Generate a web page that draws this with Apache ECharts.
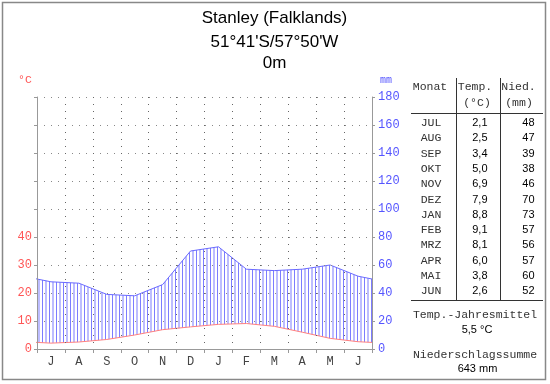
<!DOCTYPE html>
<html><head><meta charset="utf-8">
<script src="https://cdn.jsdelivr.net/npm/echarts@6/dist/echarts.min.js"></script>
<style>html,body{margin:0;padding:0;background:#fff}#c{width:550px;height:384px}</style>
</head><body><div id="c"></div>
<script>
// ---- data ----
const monthLabels = ['J','A','S','O','N','D','J','F','M','A','M','J'];
const monthNames = ['JUL','AUG','SEP','OKT','NOV','DEZ','JAN','FEB','MRZ','APR','MAI','JUN'];
const temperature = [2.1,2.5,3.4,5.0,6.9,7.9,8.8,9.1,8.1,6.0,3.8,2.6];
const precipitation = [48,47,39,38,46,70,73,57,56,57,60,52];
const titleLines = ['Stanley (Falklands)', "51°41'S/57°50'W", '0m'];
const meanTempLabel = '5,5 °C';
const totalPrecipLabel = '643 mm';

// cyclic series: previous month before the first, next after the last (clipped by grid)
function cyc(arr){
  const d = [[-0.5, arr[arr.length-1]]];
  arr.forEach((v,i)=>d.push([i+0.5, v]));
  d.push([arr.length+0.5, arr[0]]);
  return d;
}

// hatch pattern
const pc = document.createElement('canvas');
pc.width = 7; pc.height = 4;
const pctx = pc.getContext('2d');
pctx.fillStyle = '#7c7cff';
pctx.fillRect(0,0,1,4);
pctx.fillRect(3.5,0,1,4);

const MONO = '"Liberation Mono", "DejaVu Sans Mono", monospace';
const SANS = '"Liberation Sans", Arial, sans-serif';

const g = [];
// border
g.push({type:'rect', silent:true, shape:{x:2.5,y:2.5,width:543,height:377}, style:{fill:null, stroke:'#888', lineWidth:1.5}, z:100});
// title
[18,42,63].forEach((y,i)=>g.push({type:'text', silent:true, x:274.5, y:y, style:{text:titleLines[i], font:'17px '+SANS, fill:'#000', align:'center', verticalAlign:'middle'}}));
// axis units
g.push({type:'text', silent:true, x:25, y:80, style:{text:'°C', font:'11.5px '+MONO, fill:'#ff5555', align:'center', verticalAlign:'middle'}});
g.push({type:'text', silent:true, x:386, y:80, style:{text:'mm', font:'10px '+MONO, fill:'#5555ff', align:'center', verticalAlign:'middle'}});
// table
const tFont = '11.5px '+MONO, vFont = '11px '+SANS;
g.push({type:'text', silent:true, x:430, y:87, style:{text:'Monat', font:tFont, fill:'#333', align:'center', verticalAlign:'middle'}});
g.push({type:'text', silent:true, x:475, y:87, style:{text:'Temp.', font:tFont, fill:'#333', align:'center', verticalAlign:'middle'}});
g.push({type:'text', silent:true, x:477, y:103, style:{text:'(°C)', font:tFont, fill:'#333', align:'center', verticalAlign:'middle'}});
g.push({type:'text', silent:true, x:518.5, y:87, style:{text:'Nied.', font:tFont, fill:'#333', align:'center', verticalAlign:'middle'}});
g.push({type:'text', silent:true, x:519, y:103, style:{text:'(mm)', font:tFont, fill:'#333', align:'center', verticalAlign:'middle'}});
g.push({type:'line', silent:true, shape:{x1:411,y1:113.5,x2:543,y2:113.5}, style:{stroke:'#333', lineWidth:1}});
g.push({type:'line', silent:true, shape:{x1:411,y1:300.5,x2:543,y2:300.5}, style:{stroke:'#333', lineWidth:1}});
g.push({type:'line', silent:true, shape:{x1:456.5,y1:78,x2:456.5,y2:301}, style:{stroke:'#333', lineWidth:1}});
g.push({type:'line', silent:true, shape:{x1:500.5,y1:78,x2:500.5,y2:301}, style:{stroke:'#333', lineWidth:1}});
monthNames.forEach((m,i)=>{
  const y = 123 + i*15.3;
  g.push({type:'text', silent:true, x:431, y:y, style:{text:m, font:tFont, fill:'#333', align:'center', verticalAlign:'middle'}});
  g.push({type:'text', silent:true, x:487.5, y:y, style:{text:temperature[i].toFixed(1).replace('.',','), font:vFont, fill:'#000', align:'right', verticalAlign:'middle'}});
  g.push({type:'text', silent:true, x:534.5, y:y, style:{text:String(precipitation[i]), font:vFont, fill:'#000', align:'right', verticalAlign:'middle'}});
});
g.push({type:'text', silent:true, x:475, y:315, style:{text:'Temp.-Jahresmittel', font:tFont, fill:'#333', align:'center', verticalAlign:'middle'}});
g.push({type:'text', silent:true, x:477, y:330, style:{text:meanTempLabel, font:vFont, fill:'#000', align:'center', verticalAlign:'middle'}});
g.push({type:'text', silent:true, x:475, y:355, style:{text:'Niederschlagssumme', font:tFont, fill:'#333', align:'center', verticalAlign:'middle'}});
g.push({type:'text', silent:true, x:477.5, y:369, style:{text:totalPrecipLabel, font:vFont, fill:'#000', align:'center', verticalAlign:'middle'}});

const chart = echarts.init(document.getElementById('c'), null, {renderer:'canvas'});
chart.setOption({
  animation:false,
  backgroundColor:'#fff',
  grid:{left:37, right:178, top:97, bottom:35, containLabel:false},
  xAxis:[
    {type:'category', data:monthLabels, boundaryGap:true, z:5,
     axisLine:{show:true, lineStyle:{color:'#999', width:1}},
     axisTick:{show:true, length:4, lineStyle:{color:'#999'}},
     axisLabel:{color:'#444', fontFamily:MONO, fontSize:12, margin:7},
     splitLine:{show:true, showMinLine:false, showMaxLine:false, lineStyle:{color:'#666', type:[1,6], width:1}}},
    {type:'value', min:0, max:12, show:false}
  ],
  yAxis:[
    {type:'value', min:0, max:90, interval:10, position:'left', z:5,
     axisLine:{show:true, lineStyle:{color:'#999'}},
     axisTick:{show:true, length:3, lineStyle:{color:'#999'}},
     axisLabel:{color:'#ff5555', fontFamily:MONO, fontSize:12, margin:5, formatter:v=> v<=40 ? String(v) : ''},
     splitLine:{show:true, showMinLine:false, lineStyle:{color:'#888', type:[1,6], width:1}}},
    {type:'value', min:0, max:180, interval:20, position:'right', z:5,
     axisLine:{show:true, lineStyle:{color:'#999'}},
     axisTick:{show:true, length:3, lineStyle:{color:'#999'}},
     axisLabel:{color:'#5555ff', fontFamily:MONO, fontSize:12, margin:6},
     splitLine:{show:false}}
  ],
  series:[
    {type:'line', xAxisIndex:1, yAxisIndex:1, data:cyc(precipitation), symbol:'none', z:2, clip:true,
     lineStyle:{color:'#6a6aff', width:1}, areaStyle:{color:{image:pc, repeat:'repeat'}, opacity:1}},
    {type:'line', xAxisIndex:1, yAxisIndex:0, data:cyc(temperature), symbol:'none', z:3, clip:true,
     lineStyle:{color:'#ff7f7f', width:1}, areaStyle:{color:'#ffffff', opacity:1}}
  ],
  graphic:g
});
</script></body></html>
